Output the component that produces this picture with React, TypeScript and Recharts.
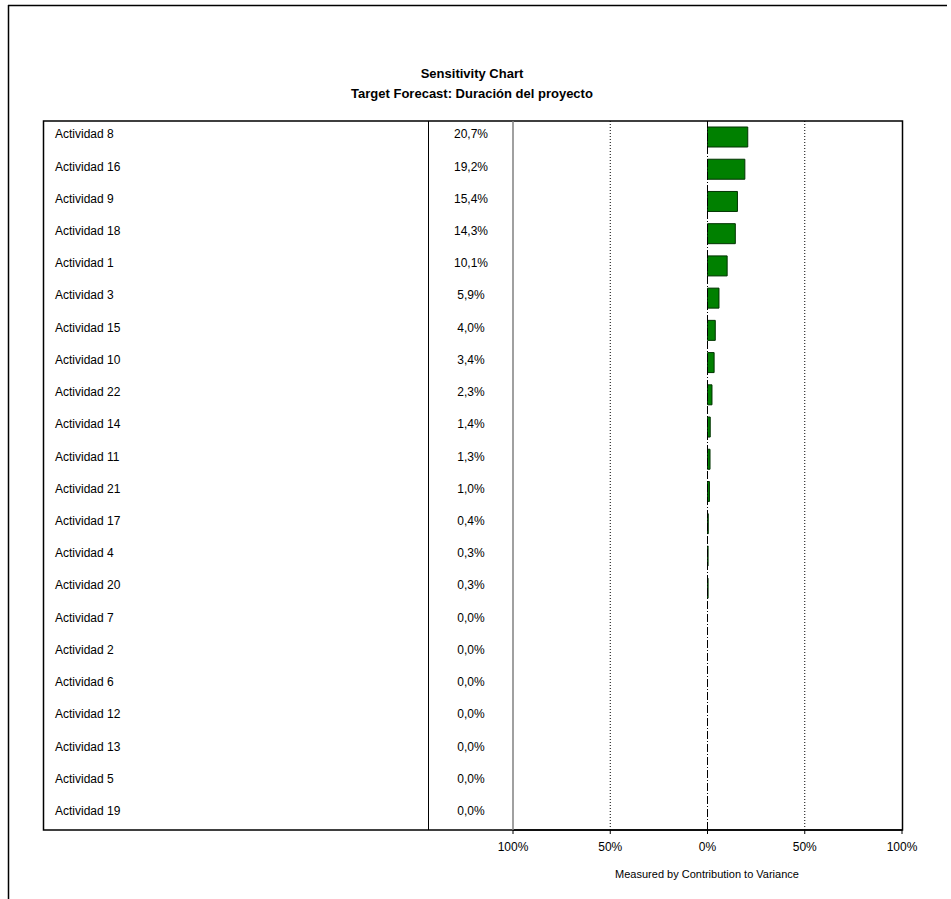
import React from 'react';
import { BarChart, Bar, XAxis, YAxis, ReferenceLine } from 'recharts';

const activities = [
  'Actividad 8', 'Actividad 16', 'Actividad 9', 'Actividad 18', 'Actividad 1', 'Actividad 3',
  'Actividad 15', 'Actividad 10', 'Actividad 22', 'Actividad 14', 'Actividad 11', 'Actividad 21',
  'Actividad 17', 'Actividad 4', 'Actividad 20', 'Actividad 7', 'Actividad 2', 'Actividad 6',
  'Actividad 12', 'Actividad 13', 'Actividad 5', 'Actividad 19',
];
const contribution = [
  20.7, 19.2, 15.4, 14.3, 10.1, 5.9, 4.0, 3.4, 2.3, 1.4, 1.3, 1.0,
  0.4, 0.3, 0.3, 0.0, 0.0, 0.0, 0.0, 0.0, 0.0, 0.0,
];
const xTicks = [-100, -50, 0, 50, 100];

const data = activities.map((name, i) => ({ name, value: contribution[i] }));

const FONT = '"Liberation Sans", Arial, sans-serif';
const fmt = (v: number) => v.toFixed(1).replace('.', ',') + '%';

const RowTick = ({ y, payload, index }: any) => (
  <g>
    <text x={55} y={y} dy={-2} fontSize={12} fontFamily={FONT} fill="#000" dominantBaseline="middle">
      {payload.value}
    </text>
    <text x={471} y={y} dy={-2} fontSize={12} fontFamily={FONT} fill="#000" textAnchor="middle" dominantBaseline="middle">
      {fmt(contribution[index])}
    </text>
  </g>
);

export default function App() {
  return (
    <div style={{ position: 'absolute', left: 0, top: 0, width: 951, height: 899, background: '#fff', fontFamily: FONT }}>
      <svg width={951} height={899} style={{ position: 'absolute', left: 0, top: 0 }}>
        <line x1={8} y1={5.5} x2={947} y2={5.5} stroke="#000" strokeWidth={1.5} />
        <line x1={8.5} y1={5} x2={8.5} y2={899} stroke="#000" strokeWidth={1.5} />
        <rect x={43.5} y={121} width={859} height={709} fill="none" stroke="#000" strokeWidth={1.5} />
        <line x1={428.5} y1={121} x2={428.5} y2={830} stroke="#000" strokeWidth={1} />
        <text x={472} y={78} textAnchor="middle" fontSize={13} fontWeight="bold" fontFamily={FONT}>Sensitivity Chart</text>
        <text x={472} y={98} textAnchor="middle" fontSize={13} fontWeight="bold" fontFamily={FONT}>Target Forecast:  Duración del proyecto</text>
        <text x={707} y={878} textAnchor="middle" fontSize={11} fontFamily={FONT}>Measured by Contribution to Variance</text>
      </svg>
      <div style={{ position: 'absolute', left: 0, top: 0 }}>
        <BarChart
          width={951}
          height={899}
          data={data}
          layout="vertical"
          margin={{ top: 121, right: 49, bottom: 39, left: 43 }}
          barSize={20}
        >
          <XAxis
            type="number"
            domain={[-100, 100]}
            ticks={xTicks}
            tickFormatter={(v: number) => Math.abs(v) + '%'}
            axisLine={{ stroke: '#000', strokeWidth: 1.5 }}
            tickLine={{ stroke: '#000' }}
            tickSize={4}
            tickMargin={8}
            tick={{ fontSize: 12, fill: '#000', fontFamily: FONT }}
            height={30}
          />
          <YAxis
            type="category"
            dataKey="name"
            width={470}
            axisLine={{ stroke: '#808080', strokeWidth: 1.5 }}
            tickLine={false}
            tick={<RowTick />}
            interval={0}
          />
          <ReferenceLine x={-50} stroke="#000" strokeDasharray="1 2" />
          <ReferenceLine x={50} stroke="#000" strokeDasharray="1 2" />
          <ReferenceLine x={0} stroke="#000" strokeDasharray="8 2 1 2" />
          <Bar dataKey="value" fill="#008000" stroke="#003300" strokeWidth={1} isAnimationActive={false} />
        </BarChart>
      </div>
    </div>
  );
}
